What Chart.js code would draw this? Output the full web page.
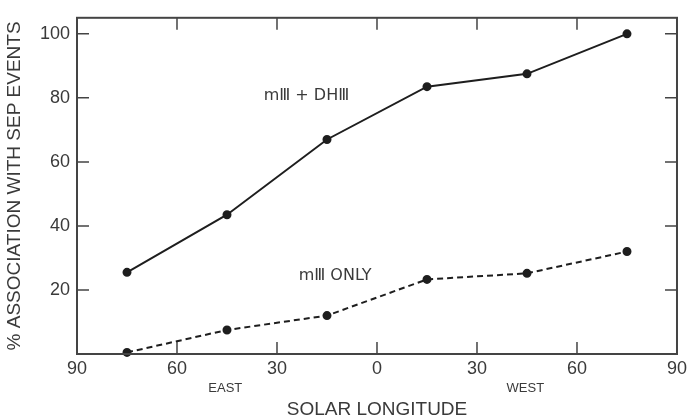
<!DOCTYPE html>
<html>
<head>
<meta charset="utf-8">
<script src="https://cdn.jsdelivr.net/npm/chart.js@4/dist/chart.umd.min.js"></script>
<style>
  html, body { margin: 0; padding: 0; background: #fff; }
  #wrap { width: 691px; height: 419px; }
</style>
</head>
<body>
<div id="wrap"><canvas id="chart" width="691" height="419"></canvas></div>
<script>
// solar longitude, east negative, west positive
const longitudes = [-75, -45, -15, 15, 45, 75]
const mIIIPlusDH = [25.5, 43.5, 67, 83.5, 87.5, 100]
const mIIIOnly = [0.5, 7.5, 12, 23.3, 25.2, 32]
const xTicks = [-90, -60, -30, 0, 30, 60, 90]
const yTicks = [20, 40, 60, 80, 100]

const INK = '#1e1e1e'
const TEXT = '#3a3a3a'
const FONT = 'Liberation Sans, Arial, sans-serif'
const LABEL_FONT = 'DejaVu Sans, sans-serif'

// frame with inward ticks + free labels
const framePlugin = {
  id: 'frame',
  afterDatasetsDraw(chart) {
    const { ctx, chartArea: a, scales } = chart
    const x = scales.x, y = scales.y
    const len = 12
    ctx.save()
    ctx.strokeStyle = '#444'
    ctx.lineWidth = 2
    ctx.strokeRect(a.left, a.top, a.right - a.left, a.bottom - a.top)
    ctx.lineWidth = 1.5
    ctx.beginPath()
    xTicks.slice(1, -1).forEach(v => {
      const px = x.getPixelForValue(v)
      ctx.moveTo(px, a.bottom); ctx.lineTo(px, a.bottom - len)
      ctx.moveTo(px, a.top); ctx.lineTo(px, a.top + len)
    })
    yTicks.forEach(v => {
      const py = y.getPixelForValue(v)
      ctx.moveTo(a.left, py); ctx.lineTo(a.left + len, py)
      ctx.moveTo(a.right, py); ctx.lineTo(a.right - len, py)
    })
    ctx.stroke()

    ctx.fillStyle = TEXT
    ctx.textBaseline = 'middle'
    ctx.textAlign = 'left'
    ctx.font = '16px ' + LABEL_FONT
    ctx.fillText('m\u2162 + DH\u2162', x.getPixelForValue(-34), y.getPixelForValue(80.5))
    ctx.fillText('m\u2162 ONLY', x.getPixelForValue(-23.5), y.getPixelForValue(24.5))
    ctx.textAlign = 'center'
    ctx.font = '13px ' + FONT
    ctx.fillText('EAST', x.getPixelForValue(-45.5), 388)
    ctx.fillText('WEST', x.getPixelForValue(44.5), 388)
    ctx.restore()
  }
}

new Chart(document.getElementById('chart'), {
  type: 'line',
  data: {
    datasets: [
      {
        label: 'mIII + DHIII',
        data: longitudes.map((v, i) => ({ x: v, y: mIIIPlusDH[i] })),
        borderColor: INK,
        backgroundColor: INK,
        borderWidth: 2,
        pointRadius: 3.5,
        tension: 0
      },
      {
        label: 'mIII only',
        data: longitudes.map((v, i) => ({ x: v, y: mIIIOnly[i] })),
        borderColor: INK,
        backgroundColor: INK,
        borderWidth: 2,
        borderDash: [6, 4],
        pointRadius: 3.5,
        tension: 0
      }
    ]
  },
  options: {
    responsive: false,
    animation: false,
    clip: false,
    layout: { padding: { top: 15, right: 10, left: 0, bottom: 0 } },
    plugins: { legend: { display: false }, tooltip: { enabled: false } },
    scales: {
      x: {
        type: 'linear',
        min: -90,
        max: 90,
        afterFit: s => { s.height = 65 },
        afterBuildTicks: s => { s.ticks = xTicks.map(v => ({ value: v })) },
        grid: { display: false, drawTicks: false },
        border: { display: false },
        ticks: {
          color: TEXT,
          font: { family: FONT, size: 18 },
          padding: 4,
          maxRotation: 0,
          callback: v => Math.abs(v)
        },
        title: {
          display: true,
          text: 'SOLAR LONGITUDE',
          color: TEXT,
          font: { family: FONT, size: 19 },
          padding: { top: 0, bottom: -2 }
        }
      },
      y: {
        min: 0,
        max: 105,
        afterFit: s => { s.width = 77 },
        afterBuildTicks: s => { s.ticks = yTicks.map(v => ({ value: v })) },
        grid: { display: false, drawTicks: false },
        border: { display: false },
        ticks: {
          color: TEXT,
          font: { family: FONT, size: 18 },
          padding: 7
        },
        title: {
          display: true,
          text: '% ASSOCIATION WITH SEP EVENTS',
          color: TEXT,
          font: { family: FONT, size: 19 },
          padding: { top: 3, bottom: 0 }
        }
      }
    }
  },
  plugins: [framePlugin]
})
</script>
</body>
</html>
